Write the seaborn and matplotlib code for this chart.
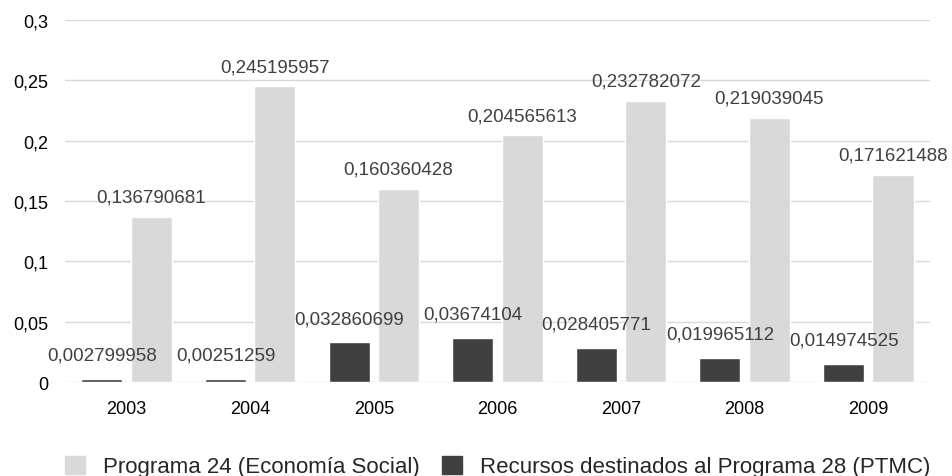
import numpy as np
import pandas as pd
import matplotlib
matplotlib.use("Agg")
import matplotlib.pyplot as plt
import seaborn as sns
from matplotlib.ticker import FuncFormatter
from matplotlib.patches import Patch

# data
years = ["2003", "2004", "2005", "2006", "2007", "2008", "2009"]
programa24 = [0.136790681, 0.245195957, 0.160360428, 0.204565613, 0.232782072, 0.219039045, 0.171621488]
ptmc = [0.002799958, 0.00251259, 0.032860699, 0.03674104, 0.028405771, 0.019965112, 0.014974525]

name24 = "Programa 24 (Economía Social)"
name28 = "Recursos destinados al Programa 28 (PTMC)"
light = "#d9d9d9"
dark = "#404040"

df = pd.DataFrame({
    "year": years * 2,
    "value": ptmc + programa24,
    "serie": [name28] * len(years) + [name24] * len(years),
})

sns.set_style("white")
plt.rcParams["font.family"] = ["Liberation Sans", "DejaVu Sans"]

fig = plt.figure(figsize=(9.52, 4.77), dpi=100)
ax = fig.add_axes([0.068, 0.197, 0.909, 0.759])

sns.barplot(data=df, x="year", y="value", hue="serie", hue_order=[name28, name24],
            palette=[dark, light], width=0.8, gap=0.17, ax=ax, legend=False,
            saturation=1, errorbar=None)

def fmt(v):
    return f"{v:.9f}".rstrip("0").replace(".", ",")

for cont, vals, pad in zip(ax.containers, [ptmc, programa24], [11, 8]):
    ax.bar_label(cont, labels=[fmt(v) for v in vals], padding=pad,
                 fontsize=13.5, color="#404040")

ax.set_ylim(0, 0.3)
ax.set_yticks(np.arange(0, 0.31, 0.05))
ax.yaxis.set_major_formatter(FuncFormatter(lambda v, p: ("%g" % round(v, 2)).replace(".", ",")))
ax.grid(axis="y", color="#d9d9d9", linewidth=1)
ax.set_axisbelow(True)
for s in ax.spines.values():
    s.set_visible(False)
ax.tick_params(axis="both", length=0, labelsize=13, colors="black")
ax.tick_params(axis="y", pad=12)
ax.tick_params(axis="x", pad=13)
ax.set_xlabel("")
ax.set_ylabel("")

handles = [Patch(color=light), Patch(color=dark)]
fig.legend(handles, [name24, name28], loc="lower center", ncol=2, frameon=False,
           fontsize=16, bbox_to_anchor=(0.523, -0.045), handlelength=0.9, handleheight=0.9,
           columnspacing=1.0, handletextpad=0.8)

fig.savefig("out.png", dpi=100)
